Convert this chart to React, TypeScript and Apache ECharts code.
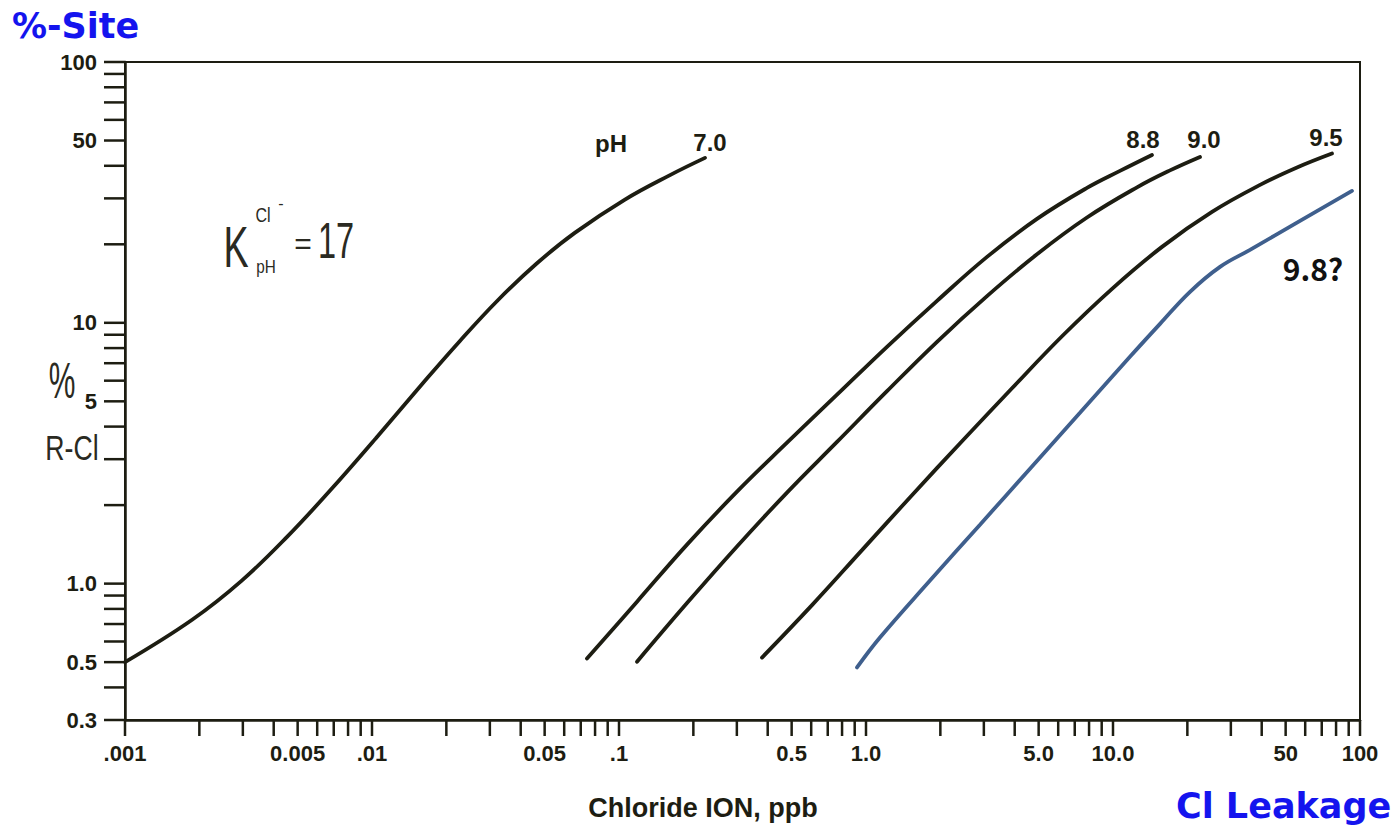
import React, { useEffect, useRef } from "react";
import * as echarts from "echarts";

// ---- axis ranges ----
const X_MIN = 0.001;
const X_MAX = 100;
const Y_MIN = 0.3;
const Y_MAX = 100;

// ---- tick values and labels ----
const xTickValues = [
  0.001, 0.002, 0.003, 0.004, 0.005, 0.006, 0.007, 0.008, 0.009,
  0.01, 0.02, 0.03, 0.04, 0.05, 0.06, 0.07, 0.08, 0.09,
  0.1, 0.2, 0.3, 0.4, 0.5, 0.6, 0.7, 0.8, 0.9,
  1, 2, 3, 4, 5, 6, 7, 8, 9,
  10, 20, 30, 40, 50, 60, 70, 80, 90, 100,
];
const xLabelValues = [0.001, 0.005, 0.01, 0.05, 0.1, 0.5, 1, 5, 10, 50, 100];
const xLabelTexts = [".001", "0.005", ".01", "0.05", ".1", "0.5", "1.0", "5.0", "10.0", "50", "100"];

const yTickValues = [
  0.3, 0.4, 0.5, 0.6, 0.7, 0.8, 0.9,
  1, 2, 3, 4, 5, 6, 7, 8, 9,
  10, 20, 30, 40, 50, 60, 70, 80, 90, 100,
];
const yLabelValues = [0.3, 0.5, 1, 5, 10, 50, 100];
const yLabelTexts = ["0.3", "0.5", "1.0", "5", "10", "50", "100"];

// ---- curves: [chloride ppb, % site R-Cl] ----
const ph70 = [
  [0.001, 0.5], [0.00187, 0.727], [0.00297, 1.027], [0.00456, 1.521], [0.00675, 2.27],
  [0.01035, 3.604], [0.0159, 5.8], [0.0227, 8.52], [0.0324, 12.23], [0.0463, 16.84],
  [0.0662, 22.12], [0.1053, 29.63], [0.1616, 36.93], [0.2229, 42.9],
];
const ph88 = [
  [0.0742, 0.516], [0.1183, 0.853], [0.1885, 1.411], [0.3004, 2.252], [0.4788, 3.469],
  [0.7632, 5.3], [1.216, 8.09], [1.939, 12.14], [3.09, 17.9], [4.924, 25.03],
  [7.846, 32.9], [10.67, 38.23], [14.38, 44.0],
];
const ph90 = [
  [0.1183, 0.502], [0.1885, 0.842], [0.3004, 1.388], [0.4788, 2.234], [0.7632, 3.494],
  [1.216, 5.47], [1.939, 8.46], [3.09, 12.66], [4.924, 18.32], [7.846, 25.34],
  [12.51, 33.07], [17.01, 38.4], [22.5, 43.25],
];
const ph95 = [
  [0.3793, 0.5205], [0.6045, 0.827], [0.9634, 1.344], [1.535, 2.183], [2.447, 3.516],
  [3.9, 5.61], [6.217, 8.88], [9.91, 13.5], [15.79, 19.55], [25.17, 26.63],
  [40.11, 34.09], [55.58, 39.43], [77.0, 44.6],
];
const ph98 = [
  [0.9196, 0.477], [1.139, 0.621], [1.816, 1.027], [2.894, 1.683], [4.613, 2.758],
  [7.35, 4.521], [11.71, 7.41], [15.5, 9.91], [20.5, 13.15], [27.12, 16.39],
  [35.86, 19.04], [57.17, 24.59], [92.8, 32.04],
];

const curveNames = ["pH 7.0", "pH 8.8", "pH 9.0", "pH 9.5", "pH 9.8?"];

export default function App() {
  const ref = useRef<HTMLDivElement>(null);

  useEffect(() => {
    if (!ref.current) return;
    const chart = echarts.init(ref.current, null, { renderer: "svg" });
    const ink = "#1d1d12";
    const blueLine = "#3f5f8d";
    const titleBlue = "#1414ee";
    const tickFont = 'bold 22px "Liberation Sans", Arial, sans-serif';
    const hand = '"Liberation Sans", Arial, sans-serif';
    const titleFont = 'bold 35px "DejaVu Sans", "Noto Sans", sans-serif';

    const lineSeries = (name: string, data: number[][], color: string) => ({
      type: "line",
      name,
      data,
      smooth: 0.4,
      symbol: "none",
      showSymbol: false,
      silent: true,
      z: 3,
      lineStyle: { color, width: 3.8, cap: "round" },
    });

    const txt = (
      text: string,
      x: number,
      y: number,
      font: string,
      align: string = "center",
      fill: string = ink,
      scaleX: number = 1,
      lineHeight?: number
    ) => ({
      type: "text",
      x,
      y,
      scaleX,
      silent: true,
      z: 20,
      style: {
        text,
        x: 0,
        y: 0,
        fill,
        font,
        lineHeight,
        textAlign: align,
        textVerticalAlign: "middle",
        align,
        verticalAlign: "middle",
      },
    });

    chart.setOption({
      animation: false,
      backgroundColor: "#ffffff",
      grid: {
        left: 125,
        right: 38,
        top: 62,
        bottom: 112,
        show: true,
        borderColor: ink,
        borderWidth: 2,
        backgroundColor: "transparent",
      },
      xAxis: {
        type: "log",
        logBase: 10,
        min: X_MIN,
        max: X_MAX,
        axisLine: { show: true, onZero: false, lineStyle: { color: ink, width: 2.5 } },
        axisTick: { show: false },
        axisLabel: { show: false },
        splitLine: { show: false },
      },
      yAxis: {
        type: "log",
        logBase: 10,
        min: Y_MIN,
        max: Y_MAX,
        axisLine: { show: true, onZero: false, lineStyle: { color: ink, width: 2.5 } },
        axisTick: { show: false },
        axisLabel: { show: false },
        splitLine: { show: false },
      },
      series: [
        lineSeries(curveNames[0], ph70, ink),
        lineSeries(curveNames[1], ph88, ink),
        lineSeries(curveNames[2], ph90, ink),
        lineSeries(curveNames[3], ph95, ink),
        lineSeries(curveNames[4], ph98, blueLine),
        {
          type: "custom",
          name: "xTicks",
          data: xTickValues.map((v) => [v, Y_MIN]),
          clip: false,
          silent: true,
          renderItem: (params: any, api: any) => {
            const p = api.coord([api.value(0), Y_MIN]);
            return {
              type: "line",
              shape: { x1: p[0], y1: p[1], x2: p[0], y2: p[1] + 16 },
              style: { stroke: ink, lineWidth: 2.5 },
            };
          },
        },
        {
          type: "custom",
          name: "xLabels",
          data: xLabelValues.map((v) => [v, Y_MIN]),
          clip: false,
          silent: true,
          renderItem: (params: any, api: any) => {
            const p = api.coord([api.value(0), Y_MIN]);
            return {
              type: "text",
              x: p[0],
              y: p[1] + 33,
              style: {
                text: xLabelTexts[params.dataIndex],
                fill: ink,
                font: tickFont,
                textAlign: "center",
                textVerticalAlign: "middle",
                align: "center",
                verticalAlign: "middle",
              },
            };
          },
        },
        {
          type: "custom",
          name: "yTicks",
          data: yTickValues.map((v) => [X_MIN, v]),
          clip: false,
          silent: true,
          renderItem: (params: any, api: any) => {
            const p = api.coord([X_MIN, api.value(1)]);
            return {
              type: "line",
              shape: { x1: p[0] - 21, y1: p[1], x2: p[0], y2: p[1] },
              style: { stroke: ink, lineWidth: 2.5 },
            };
          },
        },
        {
          type: "custom",
          name: "yLabels",
          data: yLabelValues.map((v) => [X_MIN, v]),
          clip: false,
          silent: true,
          renderItem: (params: any, api: any) => {
            const p = api.coord([X_MIN, api.value(1)]);
            return {
              type: "text",
              x: p[0] - 28,
              y: p[1],
              style: {
                text: yLabelTexts[params.dataIndex],
                fill: ink,
                font: tickFont,
                textAlign: "right",
                textVerticalAlign: "middle",
                align: "right",
                verticalAlign: "middle",
              },
            };
          },
        },
      ],
      graphic: [
        txt("%-Site", 12, 26, titleFont, "left", titleBlue, 1, 38),
        txt("Cl Leakage", 1176, 806, titleFont, "left", titleBlue, 1, 38),
        txt("Chloride ION, ppb", 703, 808, 'bold 27px "Liberation Sans", Arial, sans-serif'),
        txt("pH", 611, 143, 'bold 24px "Liberation Sans", Arial, sans-serif'),
        txt("7.0", 710, 142, 'bold 24px "Liberation Sans", Arial, sans-serif'),
        txt("8.8", 1143, 139, 'bold 24px "Liberation Sans", Arial, sans-serif'),
        txt("9.0", 1204, 139, 'bold 24px "Liberation Sans", Arial, sans-serif'),
        txt("9.5", 1326, 137, 'bold 24px "Liberation Sans", Arial, sans-serif'),
        txt("9.8?", 1313, 268, 'bold 30px "Noto Sans CJK KR", sans-serif', "center", "#111111"),
        // handwritten annotations
        txt("K", 236, 247, "58px " + hand, "center", "#2a2a22", 0.65),
        txt("Cl", 263, 215, "20px " + hand, "center", "#2a2a22", 0.8),
        txt("-", 281, 203, "16px " + hand, "center", "#2a2a22"),
        txt("pH", 266, 267, "18px " + hand, "center", "#2a2a22", 0.85),
        txt("=", 303, 243, "30px " + hand, "center", "#2a2a22"),
        txt("17", 336, 241, "50px " + hand, "center", "#2a2a22", 0.65),
        txt("%", 62, 381, "50px " + hand, "center", "#2a2a22", 0.6),
        txt("R-Cl", 72, 447, "36px " + hand, "center", "#2a2a22", 0.74),
      ],
    });

    return () => chart.dispose();
  }, []);

  return (
    <div
      ref={ref}
      style={{ position: "fixed", left: 0, top: 0, width: 1398, height: 832, background: "#ffffff" }}
    />
  );
}
